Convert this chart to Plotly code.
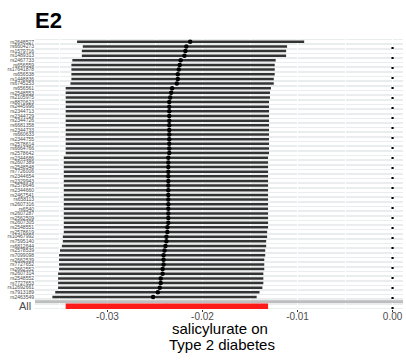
import plotly.graph_objects as go

snps = ["rs2648527", "rs6604273", "rs1579716", "rs1489313", "rs2467733", "rs656559",
        "rs17641878", "rs656538", "rs1448836", "rs6745253", "rs656561", "rs2548553",
        "rs2105975", "rs8870623", "rs2445996", "rs2344713", "rs2344729", "rs2344726",
        "rs6681358", "rs2344733", "rs660633", "rs2344755", "rs2578614", "rs6664766",
        "rs2578642", "rs2344686", "rs2607389", "rs2548548", "rs7726006", "rs2344654",
        "rs2329943", "rs2578646", "rs2344660", "rs2467541", "rs658113", "rs2607316",
        "rs6540", "rs2607287", "rs2562509", "rs2607305", "rs2548551", "rs2578619",
        "rs10467992", "rs7595140", "rs6812644", "rs2578539", "rs7099098", "rs2662539",
        "rs7727652", "rs2662552", "rs2607314", "rs2548552", "rs7727653", "rs12692661",
        "rs7913189", "rs2463549"]

est = [-0.0213, -0.0217, -0.0218, -0.0219, -0.0223, -0.0224, -0.0225, -0.0226, -0.0226, -0.0227,
       -0.0232, -0.0233, -0.0234, -0.0235, -0.0235, -0.0235, -0.0235, -0.0235, -0.0235, -0.0235,
       -0.0235, -0.0235, -0.0235, -0.0235, -0.0235, -0.0236, -0.0236, -0.0236, -0.0236, -0.0236,
       -0.0236, -0.0236, -0.0236, -0.0236, -0.0236, -0.0236, -0.0236, -0.0236, -0.0236, -0.0236,
       -0.0237, -0.0237, -0.0238, -0.0238, -0.0239, -0.0240, -0.0241, -0.0241, -0.0241, -0.0242,
       -0.0242, -0.0244, -0.0244, -0.0245, -0.0247, -0.0252]

lower = [-0.0332, -0.0326, -0.0327, -0.0327, -0.0337, -0.0338, -0.0338, -0.0338, -0.0338, -0.0339,
         -0.0344, -0.0344, -0.0344, -0.0344, -0.0344, -0.0344, -0.0344, -0.0344, -0.0344, -0.0344,
         -0.0344, -0.0344, -0.0344, -0.0344, -0.0344, -0.0346, -0.0346, -0.0346, -0.0346, -0.0346,
         -0.0346, -0.0346, -0.0346, -0.0346, -0.0346, -0.0346, -0.0346, -0.0346, -0.0346, -0.0346,
         -0.0346, -0.0346, -0.0347, -0.0347, -0.0348, -0.0350, -0.0351, -0.0351, -0.0351, -0.0351,
         -0.0352, -0.0352, -0.0352, -0.0352, -0.0355, -0.0358]

upper = [-0.0093, -0.0111, -0.0112, -0.0112, -0.0123, -0.0124, -0.0124, -0.0124, -0.0125, -0.0125,
         -0.0128, -0.0129, -0.0129, -0.0130, -0.0130, -0.0130, -0.0130, -0.0130, -0.0130, -0.0130,
         -0.0130, -0.0130, -0.0130, -0.0130, -0.0130, -0.0131, -0.0131, -0.0131, -0.0131, -0.0131,
         -0.0131, -0.0131, -0.0131, -0.0131, -0.0131, -0.0131, -0.0131, -0.0131, -0.0131, -0.0131,
         -0.0131, -0.0132, -0.0132, -0.0133, -0.0133, -0.0134, -0.0134, -0.0135, -0.0135, -0.0135,
         -0.0136, -0.0136, -0.0136, -0.0137, -0.0140, -0.0143]

all_label = "All"
all_est = -0.0238
all_lower = -0.0344
all_upper = -0.0131

x_ticks = [-0.03, -0.02, -0.01, 0.0]
x_ticktext = ["-0.03", "-0.02", "-0.01", "0.00"]

FONT = "Liberation Sans, Arial, sans-serif"

pos = list(range(len(snps)))
sep_pos = len(snps)
all_pos = len(snps) + 1

bx, by = [], []
for i, (lo, hi) in enumerate(zip(lower, upper)):
    bx += [lo, hi, None]
    by += [pos[i], pos[i], None]

fig = go.Figure()
fig.add_trace(go.Scatter(x=bx, y=by, mode="lines",
                         line=dict(color="#333333", width=2.5), hoverinfo="skip"))
fig.add_trace(go.Scatter(x=est, y=pos, mode="markers",
                         marker=dict(color="black", size=4.5)))
fig.add_trace(go.Scatter(x=[all_lower, all_upper], y=[all_pos, all_pos], mode="lines",
                         line=dict(color="#ff1a1a", width=5.5)))
fig.add_trace(go.Scatter(x=[all_est], y=[all_pos], mode="markers",
                         marker=dict(color="#ff1a1a", size=5)))

fig.add_shape(type="line", xref="paper", x0=0, x1=1, yref="y", y0=sep_pos, y1=sep_pos,
              line=dict(color="#bebebe", width=2.6))
fig.add_shape(type="line", xref="x", x0=0, x1=0, yref="paper", y0=0, y1=1,
              line=dict(color="black", width=2.2, dash="2px,8px"))

fig.add_annotation(text=all_label, xref="paper", yref="y", x=0, y=all_pos,
                   xanchor="right", yanchor="middle", xshift=-2, showarrow=False,
                   font=dict(family=FONT, size=11, color="#4d4d4d"))
fig.add_annotation(text="<b>E2</b>", xref="paper", yref="paper", x=0, y=1.068,
                   xanchor="left", yanchor="middle", xshift=-2, showarrow=False,
                   font=dict(family=FONT, size=22, color="black"))
fig.add_annotation(text="salicylurate on", xref="paper", yref="paper", x=(220 - 35) / 368,
                   y=(309 - 328.5) / 270, xanchor="center", yanchor="middle", showarrow=False,
                   borderpad=0, font=dict(family=FONT, size=15, color="black"))
fig.add_annotation(text="Type 2 diabetes", xref="paper", yref="paper", x=(222 - 35) / 368,
                   y=(309 - 344) / 270, xanchor="center", yanchor="middle", showarrow=False,
                   borderpad=0, font=dict(family=FONT, size=15, color="black"))

fig.update_layout(
    template="none",
    width=406, height=361,
    margin=dict(l=35, r=3, t=39, b=52),
    paper_bgcolor="white", plot_bgcolor="#eaeded",
    showlegend=False,
    font=dict(family=FONT),
    xaxis=dict(range=[-0.03763, 0.0011], tickvals=x_ticks, ticktext=x_ticktext,
               tickfont=dict(size=10, color="#4d4d4d"),
               ticks="outside", ticklen=2, tickcolor="#333333", tickwidth=1,
               ticklabelstandoff=-4,
               showgrid=True, gridcolor="white", gridwidth=1.2,
               minor=dict(dtick=0.005, tick0=0, showgrid=True, gridcolor="white", gridwidth=0.6),
               zeroline=False, showline=False, automargin=False),
    yaxis=dict(range=[all_pos + 0.6, -0.6], tickvals=pos + [all_pos],
               ticktext=snps + [""],
               tickfont=dict(size=5, color="#4d4d4d"),
               ticks="", showgrid=True, gridcolor="white", gridwidth=2.6,
               zeroline=False, showline=False, automargin=False),
)

fig.write_html("out.html", config={"displayModeBar": False},
               post_script="document.body.style.margin='0';document.body.style.overflow='hidden';")
